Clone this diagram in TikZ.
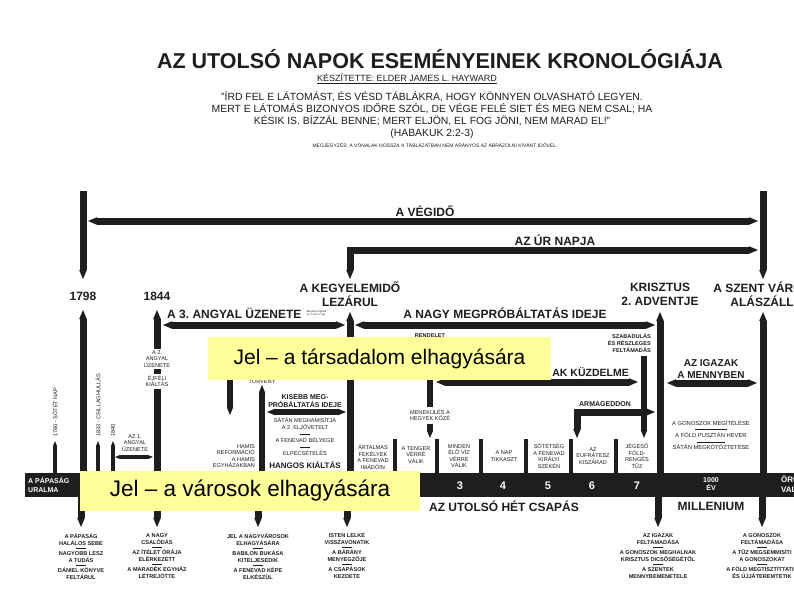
\documentclass[tikz,border=0pt]{standalone}
\usepackage{fontspec}
\setmainfont{Liberation Sans}
\usetikzlibrary{arrows.meta,positioning}
\definecolor{ink}{RGB}{30,30,30}
\definecolor{hilite}{RGB}{255,255,153}
\newcommand{\grpsep}[1][10pt]{\rule[1.4pt]{#1}{0.5pt}}
\newcommand{\gsep}{\\[-3pt]\grpsep\\[-1.5pt]}
\frenchspacing

\begin{document}
\begin{tikzpicture}[x=1pt,y=-1pt,
    every node/.style={inner sep=0pt,text=ink,align=center},
    fatbar/.style={draw=ink,line width=7pt,>={Triangle[length=9pt,width=7.6pt,line width=0pt]}},
    midbar/.style={draw=ink,line width=6pt,>={Triangle[length=8pt,width=6.6pt,line width=0pt]}},
    slimbar/.style={draw=ink,line width=3.4pt,>={Triangle[length=5pt,width=4pt,line width=0pt]}},
    bigl/.style={font=\fontsize{12}{14}\selectfont\bfseries},
    midl/.style={font=\fontsize{10}{12.5}\selectfont\bfseries},
    smll/.style={font=\fontsize{7}{8}\selectfont\bfseries},
    tinyl/.style={font=\fontsize{5.6}{6.6}\selectfont},
    tinyb/.style={font=\fontsize{5.6}{7.2}\selectfont\bfseries},
    bandl/.style={font=\fontsize{11}{12}\selectfont\bfseries,text=white},
    signbox/.style={fill=hilite,font=\fontsize{21}{24}\selectfont,text=black}]

  \fill[white] (0,0) rectangle (794,595);
  \useasboundingbox (0,0) rectangle (794,595);

  % heading
  \node[font=\fontsize{21.5}{24}\selectfont\bfseries] (title) at (440,59) {AZ UTOLSÓ NAPOK ESEMÉNYEINEK KRONOLÓGIÁJA};
  \node[font=\fontsize{9}{10}\selectfont] (author) at (407,79) {\underline{KÉSZÍTETTE: ELDER JAMES L. HAYWARD}};
  \node[font=\fontsize{10.4}{12}\selectfont,anchor=north] (quote) at (432,91)
    {"ÍRD FEL E LÁTOMÁST, ÉS VÉSD TÁBLÁKRA, HOGY KÖNNYEN OLVASHATÓ LEGYEN.\\MERT E LÁTOMÁS BIZONYOS IDŐRE SZÓL, DE VÉGE FELÉ SIET ÉS MEG NEM CSAL; HA\\KÉSIK IS. BÍZZÁL BENNE; MERT ELJÖN, EL FOG JÖNI, NEM MARAD EL!"\\(HABAKUK 2:2-3)};
  \node[font=\fontsize{5}{6}\selectfont] (remark) at (435,145) {MEGJEGYZÉS: A VONALAK HOSSZA A TÁBLÁZATBAN NEM ARÁNYOS AZ ÁBRÁZOLNI KÍVÁNT IDŐVEL.};

  % upper arrows
  \coordinate (t1798a) at (83,191);  \coordinate (t1798b) at (83,279);
  \coordinate (tcitya) at (763,191); \coordinate (tcityb) at (763,279);
  \coordinate (enda) at (88,221);    \coordinate (endb) at (758,221);
  \coordinate (dola) at (350,279);   \coordinate (dolb) at (350,250); \coordinate (dolc) at (758,250);
  \draw[fatbar,->] (t1798a) -- (t1798b);
  \draw[fatbar,->] (tcitya) -- (tcityb);
  \draw[fatbar,<->] (enda) -- (endb);
  \draw[fatbar,<->] (dola) -- (dolb) -- (dolc);
  \node[bigl] (end) at (425,211) {A VÉGIDŐ};
  \node[bigl] (dol) at (555,240) {AZ ÚR NAPJA};

  % dates and turning points
  \node[bigl] (y1798) at (83,296) {1798};
  \node[bigl] (y1844) at (157,296) {1844};
  \node[bigl] (grace) at (350,294) {A KEGYELEMIDŐ\\LEZÁRUL};
  \node[bigl] (advent) at (660,294) {KRISZTUS\\2. ADVENTJE};
  \node[bigl] (city) at (762,294) {A SZENT VÁROS\\ALÁSZÁLL};
  \node[bigl,anchor=west] (third) at (167,313) {A 3. ANGYAL ÜZENETE};
  \node[font=\fontsize{2.6}{3}\selectfont,anchor=west] (thirdnote) at (306,313) {(Ma jelen fogható\\az 1.-től a 2.-ig)};
  \node[bigl] (trouble) at (505,313) {A NAGY MEGPRÓBÁLTATÁS IDEJE};

  % main verticals
  \coordinate (v1798a) at (83,310);  \coordinate (v1798b) at (83,474);
  \coordinate (v1844a) at (157,310); \coordinate (v1844b) at (157,349);
  \coordinate (v1844c) at (157,369); \coordinate (v1844d) at (157,374);
  \coordinate (v1844e) at (157,389); \coordinate (v1844f) at (157,474);
  \coordinate (vgra) at (350,312);   \coordinate (vgrb) at (350,474);
  \coordinate (vadva) at (660,312);  \coordinate (vadvb) at (660,474);
  \coordinate (vcitya) at (763,312); \coordinate (vcityb) at (763,474);
  \draw[fatbar,<-] (v1798a) -- (v1798b);
  \draw[fatbar,<-] (v1844a) -- (v1844b);
  \draw[fatbar] (v1844c) -- (v1844d);
  \draw[fatbar] (v1844e) -- (v1844f);
  \draw[fatbar,<-] (vgra) -- (vgrb);
  \draw[fatbar,<-] (vadva) -- (vadvb);
  \draw[fatbar,<-] (vcitya) -- (vcityb);

  % periods
  \coordinate (thirda) at (163,325); \coordinate (thirdb) at (345,325);
  \coordinate (troua) at (355,325);  \coordinate (troub) at (655,325);
  \draw[fatbar,<->] (thirda) -- (thirdb);
  \draw[fatbar,<->] (troua) -- (troub);

  % early signs
  \node[tinyl] (angel2) at (157,359) {A 2.\\ANGYAL\\ÜZENETE};
  \node[tinyl] (midnight) at (157,381) {ÉJFÉLI\\KIÁLTÁS};
  \node[tinyl,rotate=90,anchor=west] (dark) at (55,437) {1780 - SÖTÉT NAP};
  \node[tinyl,rotate=90,anchor=west] (stars) at (98,437) {1833 - CSILLAGHULLÁS};
  \node[tinyl,rotate=90,anchor=west] (y1840) at (113,437) {1840};
  \foreach \x/\n in {55/dark,98/stars,113/y1840}{
    \coordinate (\n a) at (\x,441); \coordinate (\n b) at (\x,474);
    \draw[slimbar,<-] (\n a) -- (\n b);
  }
  \node[tinyl] (angel1) at (135,443) {AZ 1.\\ANGYAL\\ÜZENETE};
  \coordinate (angel1a) at (115,457); \coordinate (angel1b) at (153,457);
  \draw[slimbar,<->] (angel1a) -- (angel1b);

  % lesser time of trouble
  \coordinate (lawa) at (230,345);   \coordinate (lawb) at (230,415);
  \coordinate (crya) at (262,385);   \coordinate (cryb) at (262,474);
  \coordinate (lessa) at (267,412);  \coordinate (lessb) at (346,412);
  \draw[midbar,->] (lawa) -- (lawb);
  \draw[midbar,<-] (crya) -- (cryb);
  \draw[midbar,<->] (lessa) -- (lessb);
  \node[tinyl] (law) at (262,381.5) {TÖRVÉNY};
  \node[smll] (lesser) at (305,401) {KISEBB MEG-\\PRÓBÁLTATÁS IDEJE};
  \node[tinyl] (satan) at (305,437) {SÁTÁN MEGHAMISÍTJA\\A 2. ELJÖVETELT\\\grpsep\\A FENEVAD BÉLYEGE\\\grpsep\\ELPECSÉTELÉS};
  \node[font=\fontsize{8}{9}\selectfont\bfseries] (cry) at (305,465) {HANGOS KIÁLTÁS};
  \node[tinyl,anchor=east,align=right] (false) at (255,456) {HAMIS\\REFORMÁCIÓ\\A HAMIS\\EGYHÁZAKBAN};

  % great time of trouble
  \node[tinyb] (decree) at (430,336) {RENDELET};
  \coordinate (deca) at (430,341);   \coordinate (decb) at (430,407);
  \coordinate (fleea) at (430,424);  \coordinate (fleeb) at (430,438);
  \draw[midbar] (deca) -- (decb);
  \draw[midbar,->] (fleea) -- (fleeb);
  \node[tinyl] (flee) at (430,415) {MENEKÜLÉS A\\HEGYEK KÖZÉ};
  \node[font=\fontsize{10.5}{12}\selectfont\bfseries,anchor=east] (strife) at (629,372) {AZ IGAZ\kern6pt AK KÜZDELME};
  \coordinate (strifea) at (436,382); \coordinate (strifeb) at (638,382);
  \draw[fatbar,<->] (strifea) -- (strifeb);
  \node[tinyb,anchor=east,align=right] (release) at (651,343) {SZABADULÁS\\ÉS RÉSZLEGES\\FELTÁMADÁS};
  \coordinate (relea) at (644,356);  \coordinate (releb) at (644,438);
  \draw[midbar,->] (relea) -- (releb);
  \node[smll] (armageddon) at (605,404) {ARMAGEDDON};
  \coordinate (arma) at (577,438);   \coordinate (armb) at (577,412); \coordinate (armc) at (655,412);
  \draw[fatbar,<->] (arma) -- (armb) -- (armc);

  % millennium
  \node[midl] (heaven) at (711,369) {AZ IGAZAK\\A MENNYBEN};
  \coordinate (heava) at (667,383);  \coordinate (heavb) at (757,383);
  \draw[fatbar,<->] (heava) -- (heavb);
  \node[tinyl,font=\fontsize{5.8}{6.1}\selectfont] (judge) at (711,435) {A GONOSZOK MEGÍTÉLÉSE\\\grpsep[32pt]\\A FÖLD PUSZTÁN HEVER\\\grpsep[28pt]\\SÁTÁN MEGKÖTÖZTETÉSE};

  % seven last plagues
  \foreach \x/\n in {395/s1,437/s2,481/s3,526/s4,571/s5,616/s6}{
    \coordinate (\n a) at (\x,439); \coordinate (\n b) at (\x,474);
    \draw[slimbar] (\n a) -- (\n b);
  }
  \node[tinyl] (p1) at (373,457) {ÁRTALMAS\\FEKÉLYEK\\A FENEVAD\\IMÁDÓIN};
  \node[tinyl] (p2) at (416,455) {A TENGER\\VÉRRÉ\\VÁLIK};
  \node[tinyl] (p3) at (459,456) {MINDEN\\ÉLŐ VÍZ\\VÉRRÉ\\VÁLIK};
  \node[tinyl] (p4) at (504,456) {A NAP\\TIKKASZT};
  \node[tinyl] (p5) at (549,456) {SÖTÉTSÉG\\A FENEVAD\\KIRÁLYI\\SZÉKÉN};
  \node[tinyl] (p6) at (593,456) {AZ\\EUFRÁTESZ\\KISZÁRAD};
  \node[tinyl] (p7) at (637,456) {JÉGESŐ\\FÖLD-\\RENGÉS\\TŰZ};

  % time line
  \fill[ink] (25,473) rectangle (794,497);
  \node[font=\fontsize{7}{8.5}\selectfont\bfseries,text=white,anchor=west,align=left] (papacy) at (28,485) {A PÁPASÁG\\URALMA};
  \foreach \x/\n in {460/3,503/4,548/5,592/6,637/7}
    \node[bandl] (n\n) at (\x,485.5) {\n};
  \node[font=\fontsize{7}{8.5}\selectfont\bfseries,text=white] (thousand) at (711,484) {1000\\ÉV};
  \node[font=\fontsize{8}{9.5}\selectfont\bfseries,text=white,anchor=west,align=left] (eternal) at (781,484) {ÖRÖKKÉ\\VALÓSÁG};
  \node[bigl] (plagues) at (504,506) {AZ UTOLSÓ HÉT CSAPÁS};
  \node[bigl] (millen) at (711,506) {MILLENIUM};

  % what follows each point
  \foreach \x/\n in {81/q1,157/q2,258/q3,347/q4,658/q5,762/q6}{
    \coordinate (\n a) at (\x,496); \coordinate (\n b) at (\x,527);
    \draw[fatbar,->] (\n a) -- (\n b);
  }
  \node[tinyb,anchor=north] (r1) at (81,533) {A PÁPASÁG\\HALÁLOS SEBE\gsep NAGYOBB LESZ\\A TUDÁS\gsep DÁNIEL KÖNYVE\\FELTÁRUL};
  \node[tinyb,anchor=north] (r2) at (157,533) {A NAGY\\CSALÓDÁS\gsep AZ ÍTÉLET ÓRÁJA\\ELÉRKEZETT\gsep A MARADÉK EGYHÁZ\\LÉTREJÖTTE};
  \node[tinyb,anchor=north] (r3) at (258,533) {JEL A NAGYVÁROSOK\\ELHAGYÁSÁRA\gsep BABILON BUKÁSA\\KITELJESEDIK\gsep A FENEVAD KÉPE\\ELKÉSZÜL};
  \node[tinyb,anchor=north] (r4) at (347,533) {ISTEN LELKE\\VISSZAVONATIK\gsep A BÁRÁNY\\MENYEGZŐJE\gsep A CSAPÁSOK\\KEZDETE};
  \node[tinyb,anchor=north] (r5) at (658,533) {AZ IGAZAK\\FELTÁMADÁSA\gsep A GONOSZOK MEGHALNAK\\KRISZTUS DICSŐSÉGÉTŐL\gsep A SZENTEK\\MENNYBEMENETELE};
  \node[tinyb,anchor=north] (r6) at (762,533) {A GONOSZOK\\FELTÁMADÁSA\gsep A TŰZ MEGSEMMISÍTI\\A GONOSZOKAT\gsep A FÖLD MEGTISZTÍTTATIK\\ÉS ÚJJÁTEREMTETIK};

  % highlight signs
  \node[signbox,minimum width=343pt,minimum height=43pt] (sign1) at (379.5,358.5) {Jel – a társadalom elhagyására};
  \node[signbox,font=\fontsize{22.5}{25}\selectfont,minimum width=340pt,minimum height=40pt] (sign2) at (250,491) {Jel – a városok elhagyására};
\end{tikzpicture}
\end{document}
